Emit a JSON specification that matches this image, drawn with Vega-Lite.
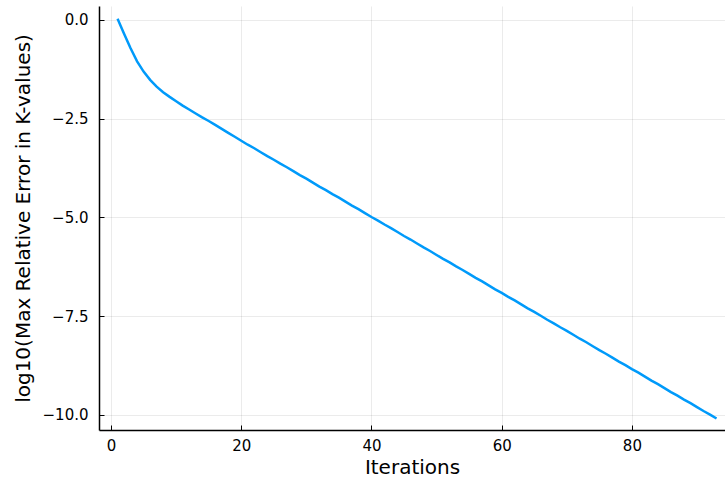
{
  "$schema": "https://vega.github.io/schema/vega-lite/v6.json",
  "autosize": "none",
  "width": 626,
  "height": 424,
  "padding": {"left": 99, "top": 6, "right": 0, "bottom": 51},
  "background": "white",
  "config": {
    "view": {"stroke": null},
    "font": "DejaVu Sans"
  },
  "data": {"values": [
    {"it":1,"v":0.03},{"it":2,"v":-0.35},{"it":3,"v":-0.72},{"it":4,"v":-1.05},{"it":5,"v":-1.31},
    {"it":6,"v":-1.52},{"it":7,"v":-1.69},{"it":8,"v":-1.83},{"it":9,"v":-1.95},{"it":10,"v":-2.06},
    {"it":11,"v":-2.17},{"it":12,"v":-2.27},{"it":13,"v":-2.37},{"it":14,"v":-2.47},{"it":15,"v":-2.56},
    {"it":16,"v":-2.66},{"it":17,"v":-2.76},{"it":18,"v":-2.86},{"it":19,"v":-2.96},{"it":20,"v":-3.06},
    {"it":21,"v":-3.16},{"it":22,"v":-3.25},{"it":23,"v":-3.35},{"it":24,"v":-3.45},{"it":25,"v":-3.54},
    {"it":26,"v":-3.64},{"it":27,"v":-3.73},{"it":28,"v":-3.83},{"it":29,"v":-3.93},{"it":30,"v":-4.02},
    {"it":31,"v":-4.12},{"it":32,"v":-4.22},{"it":33,"v":-4.31},{"it":34,"v":-4.41},{"it":35,"v":-4.50},
    {"it":36,"v":-4.60},{"it":37,"v":-4.70},{"it":38,"v":-4.79},{"it":39,"v":-4.89},{"it":40,"v":-4.99},
    {"it":41,"v":-5.08},{"it":42,"v":-5.18},{"it":43,"v":-5.27},{"it":44,"v":-5.37},{"it":45,"v":-5.47},
    {"it":46,"v":-5.56},{"it":47,"v":-5.66},{"it":48,"v":-5.76},{"it":49,"v":-5.85},{"it":50,"v":-5.95},
    {"it":51,"v":-6.05},{"it":52,"v":-6.14},{"it":53,"v":-6.24},{"it":54,"v":-6.33},{"it":55,"v":-6.43},
    {"it":56,"v":-6.53},{"it":57,"v":-6.62},{"it":58,"v":-6.72},{"it":59,"v":-6.82},{"it":60,"v":-6.91},
    {"it":61,"v":-7.01},{"it":62,"v":-7.10},{"it":63,"v":-7.20},{"it":64,"v":-7.30},{"it":65,"v":-7.39},
    {"it":66,"v":-7.49},{"it":67,"v":-7.59},{"it":68,"v":-7.68},{"it":69,"v":-7.78},{"it":70,"v":-7.87},
    {"it":71,"v":-7.97},{"it":72,"v":-8.07},{"it":73,"v":-8.16},{"it":74,"v":-8.26},{"it":75,"v":-8.36},
    {"it":76,"v":-8.45},{"it":77,"v":-8.55},{"it":78,"v":-8.65},{"it":79,"v":-8.74},{"it":80,"v":-8.84},
    {"it":81,"v":-8.93},{"it":82,"v":-9.03},{"it":83,"v":-9.13},{"it":84,"v":-9.22},{"it":85,"v":-9.32},
    {"it":86,"v":-9.42},{"it":87,"v":-9.51},{"it":88,"v":-9.61},{"it":89,"v":-9.70},{"it":90,"v":-9.80},
    {"it":91,"v":-9.90},{"it":92,"v":-9.99},{"it":93,"v":-10.09}
  ]},
  "mark": {"type": "line", "color": "#009AFA", "strokeWidth": 2.5, "clip": true},
  "encoding": {
    "x": {
      "field": "it", "type": "quantitative",
      "scale": {"domain": [-1.85, 94.3], "nice": false, "zero": false},
      "axis": {
        "values": [0, 20, 40, 60, 80],
        "title": "Iterations",
        "titleFontSize": 20, "titleFontWeight": "normal", "titleColor": "#000000", "titlePadding": 4,
        "labelFontSize": 15, "labelColor": "#000000", "labelPadding": 13,
        "tickSize": -5, "tickColor": "#000000", "tickWidth": 1,
        "domainColor": "#000000", "domainWidth": 1.5,
        "grid": true, "gridColor": "#000000", "gridOpacity": 0.1, "gridWidth": 0.8
      }
    },
    "y": {
      "field": "v", "type": "quantitative",
      "scale": {"domain": [-10.38, 0.35], "nice": false, "zero": false},
      "axis": {
        "values": [0, -2.5, -5, -7.5, -10],
        "format": ".1f",
        "title": "log10(Max Relative Error in K-values)",
        "titleFontSize": 20, "titleFontWeight": "normal", "titleColor": "#000000", "titlePadding": 9,
        "labelFontSize": 15, "labelColor": "#000000", "labelPadding": 16,
        "tickSize": -5, "tickColor": "#000000", "tickWidth": 1,
        "domainColor": "#000000", "domainWidth": 1.5,
        "grid": true, "gridColor": "#000000", "gridOpacity": 0.1, "gridWidth": 0.8
      }
    }
  }
}
